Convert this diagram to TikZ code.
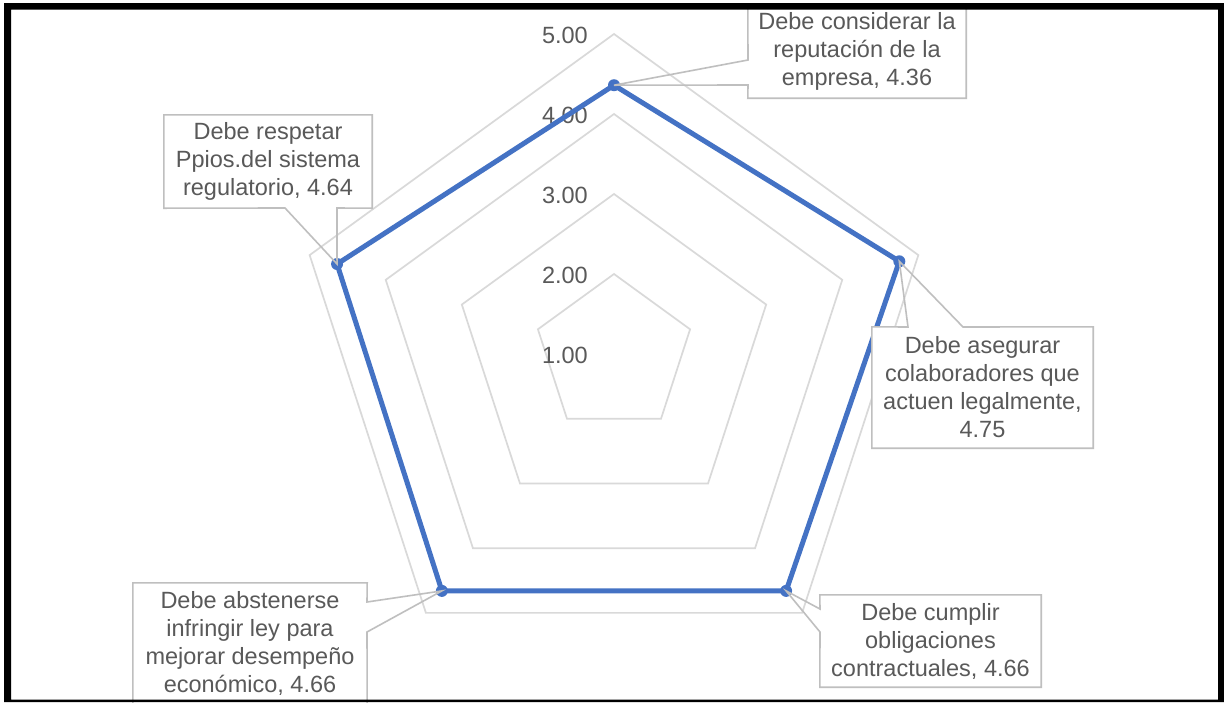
\documentclass[tikz,border=0pt]{standalone}
\usepackage{fontspec}
\setmainfont{Liberation Sans}
\usetikzlibrary{calc}
\definecolor{gridgray}{HTML}{D9D9D9}
\definecolor{boxgray}{HTML}{BFBFBF}
\definecolor{txtgray}{HTML}{595959}
\definecolor{seriesblue}{HTML}{4472C4}

\begin{document}
\begin{tikzpicture}[x=1pt,y=-1pt,
  gridline/.style={draw=gridgray,line width=1.7pt,line join=miter},
  series/.style={draw=seriesblue,line width=5pt,line join=round},
  marker/.style={circle,fill=seriesblue,inner sep=0pt,minimum size=12pt},
  axislabel/.style={anchor=east,inner sep=0pt,text=txtgray,font=\fontsize{23.5}{28}\selectfont},
  labeltext/.style={inner sep=0pt,fill=white,align=center,text=txtgray,font=\fontsize{23.5}{28}\selectfont},
  callout/.style={draw=boxgray,line width=1.6pt,line join=miter}]

\useasboundingbox (0,0) rectangle (1224,702);
\fill[white] (0,0) rectangle (1224,702);

% chart centre; 80pt per unit, scale starting at 1.00
\coordinate (c) at (614,354);

% concentric pentagonal grid for 2.00 .. 5.00
\foreach \k in {1,2,3,4}{
  \draw[gridline] ($(c)+(90:80*\k pt)$) -- ($(c)+(18:80*\k pt)$) -- ($(c)+(-54:80*\k pt)$)
    -- ($(c)+(-126:80*\k pt)$) -- ($(c)+(162:80*\k pt)$) -- cycle;
}

% axis values
\foreach \v/\k in {1.00/0,2.00/1,3.00/2,4.00/3,5.00/4}{
  \node[axislabel] (ax\k) at (588,{355-80*\k}) {\v};
}

% data points
\coordinate (p1) at ($(c)+(90:268.8pt)$);
\coordinate (p2) at ($(c)+(18:300pt)$);
\coordinate (p3) at ($(c)+(-54:292.8pt)$);
\coordinate (p4) at ($(c)+(-126:292.8pt)$);
\coordinate (p5) at ($(c)+(162:291.2pt)$);

\draw[series] (p1) -- (p2) -- (p3) -- (p4) -- (p5) -- cycle;
\foreach \p in {p1,p2,p3,p4,p5}{
  \node[marker] (m\p) at (\p) {};
}

% data labels with callout pointers
\node[labeltext,minimum width=218pt,minimum height=93pt] (t) at (857,51.5)
  {Debe considerar la\\reputación de la\\empresa, 4.36};
\coordinate (tw1) at (748,60);
\coordinate (tw2) at (748,85);
\draw[callout] (t.north west) -- (t.north east) -- (t.south east) -- (t.south west)
  -- (tw2) -- (p1) -- (tw1) -- cycle;

\node[labeltext,minimum width=221pt,minimum height=121pt] (r) at (982.5,387.5)
  {Debe asegurar\\colaboradores que\\actuen legalmente,\\4.75};
\coordinate (rw1) at (908,327);
\coordinate (rw2) at (963,327);
\draw[callout] (r.north west) -- (rw1) -- (p2) -- (rw2) -- (r.north east)
  -- (r.south east) -- (r.south west) -- cycle;

\node[labeltext,minimum width=221pt,minimum height=92pt] (br) at (930.5,641)
  {Debe cumplir\\obligaciones\\contractuales, 4.66};
\coordinate (bw1) at (820,609);
\coordinate (bw2) at (820,632);
\draw[callout] (br.north west) -- (br.north east) -- (br.south east) -- (br.south west)
  -- (bw2) -- (p3) -- (bw1) -- cycle;

\node[labeltext,minimum width=234pt,minimum height=121pt] (bl) at (250,643.5)
  {Debe abstenerse\\infringir ley para\\mejorar desempeño\\económico, 4.66};
\coordinate (lw1) at (367,602);
\coordinate (lw2) at (367,632);
\draw[callout] (bl.north west) -- (bl.north east) -- (lw1) -- (p4) -- (lw2)
  -- (bl.south east) -- (bl.south west) -- cycle;

\node[labeltext,minimum width=208pt,minimum height=93pt] (l) at (268,161.5)
  {Debe respetar\\Ppios.del sistema\\regulatorio, 4.64};
\coordinate (lb1) at (285,208);
\coordinate (lb2) at (337,208);
\draw[callout] (l.north west) -- (l.north east) -- (l.south east) -- (lb2) -- (p5)
  -- (lb1) -- (l.south west) -- cycle;

% black frame
\fill[black,even odd rule] (4,3) rectangle (1224,702) (11,9.5) rectangle (1218,699.5);
\end{tikzpicture}
\end{document}
